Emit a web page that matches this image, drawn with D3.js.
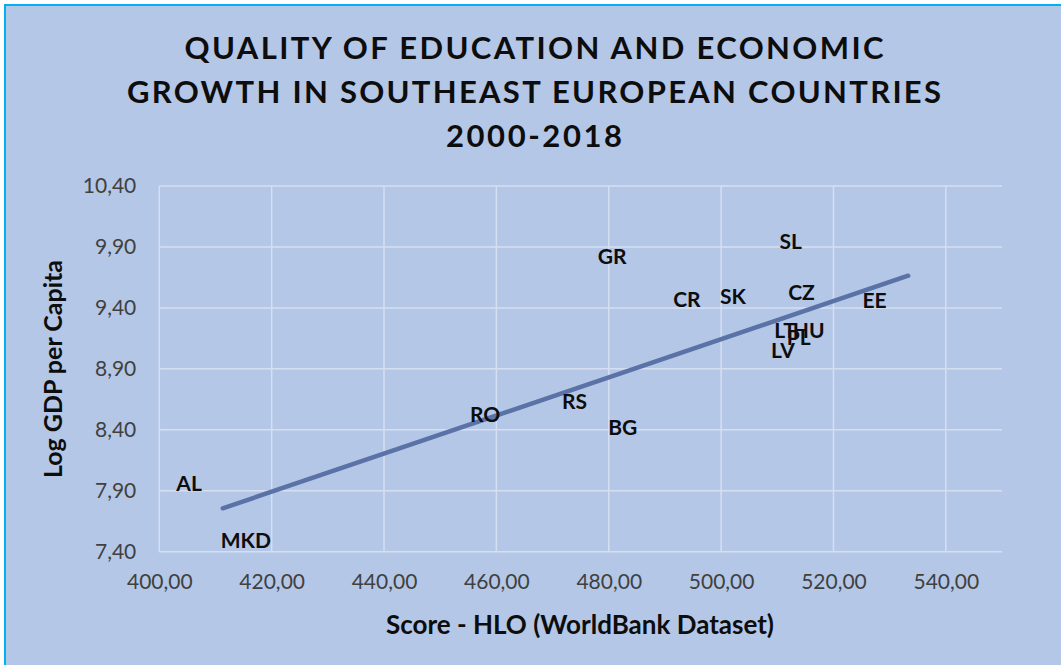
<!DOCTYPE html>
<html>
<head>
<meta charset="utf-8">
<script src="https://cdn.jsdelivr.net/npm/d3@7"></script>
<style>
  html, body { margin: 0; padding: 0; background: #ffffff; }
  svg { display: block; }
  text { font-family: Lato, "Open Sans", sans-serif; }
</style>
</head>
<body>
<div id="chart"></div>
<script>
// data
const countries = ["AL", "MKD", "RO", "RS", "BG", "GR", "CR", "SK", "SL", "CZ", "EE", "LT", "HU", "PL", "LV"];
const hloScore = [405.3, 415.4, 458.0, 473.9, 482.5, 480.6, 493.9, 502.1, 512.4, 514.3, 527.3, 511.4, 515.6, 513.8, 511.0];
const logGdp = [7.97, 7.50, 8.536, 8.637, 8.426, 9.828, 9.48, 9.499, 9.953, 9.535, 9.467, 9.22, 9.226, 9.165, 9.056];

// linear trend, ends
const trendX = [411.3, 533.3];
const trendY = [7.756, 9.664];

const xTicks = [400, 420, 440, 460, 480, 500, 520, 540];
const yTicks = [7.4, 7.9, 8.4, 8.9, 9.4, 9.9, 10.4];

const titleLines = ["QUALITY OF EDUCATION AND ECONOMIC", "GROWTH IN SOUTHEAST EUROPEAN COUNTRIES", "2000-2018"];
const titleWidths = [699, 814, 176];

const W = 1061, H = 665;
const plotL = 159.3, plotR = 1002, plotT = 186, plotB = 551.7;

const svg = d3.select("#chart").append("svg")
    .attr("width", W)
    .attr("height", H);

// chart area with blue frame (runs past the right/bottom edge)
svg.append("rect")
    .attr("x", 5).attr("y", 5)
    .attr("width", W + 20).attr("height", H + 20)
    .attr("fill", "#b4c7e7")
    .attr("stroke", "#00b0f0")
    .attr("stroke-width", 2);

const x = d3.scaleLinear().domain([400, 550]).range([plotL, plotR]);
const y = d3.scaleLinear().domain([7.4, 10.4]).range([plotB, plotT]);

const fmt = d => d3.format(".2f")(d).replace(".", ",");

// gridlines
const grid = svg.append("g");
grid.selectAll(".hg").data(yTicks).enter().append("line")
    .attr("x1", plotL).attr("x2", plotR)
    .attr("y1", d => y(d)).attr("y2", d => y(d))
    .attr("stroke", "#d5dff1").attr("stroke-width", 1.5);
grid.selectAll(".vg").data(xTicks).enter().append("line")
    .attr("x1", d => x(d)).attr("x2", d => x(d))
    .attr("y1", plotT).attr("y2", plotB)
    .attr("stroke", "#d5dff1").attr("stroke-width", 1.5);

// axes (labels only)
const xAxis = svg.append("g")
    .attr("transform", "translate(0," + plotB + ")")
    .call(d3.axisBottom(x).tickValues(xTicks).tickFormat(fmt).tickSize(0).tickPadding(22));
const yAxis = svg.append("g")
    .attr("transform", "translate(" + plotL + ",0)")
    .call(d3.axisLeft(y).tickValues(yTicks).tickFormat(fmt).tickSize(0).tickPadding(23));
[xAxis, yAxis].forEach(a => {
    a.select(".domain").remove();
    a.selectAll("text")
        .attr("font-family", "Lato, 'Open Sans', sans-serif")
        .attr("font-size", 21)
        .attr("fill", "#404040");
});

// trend line
svg.append("path")
    .datum(d3.zip(trendX, trendY))
    .attr("fill", "none")
    .attr("stroke", "#5a72a6")
    .attr("stroke-width", 4.5)
    .attr("stroke-linecap", "round")
    .attr("d", d3.line().x(d => x(d[0])).y(d => y(d[1])));

// data labels (no markers)
svg.append("g").selectAll("text")
    .data(countries).enter().append("text")
    .attr("x", (d, i) => x(hloScore[i]))
    .attr("y", (d, i) => y(logGdp[i]))
    .attr("text-anchor", "middle")
    .attr("dominant-baseline", "central")
    .attr("font-size", 21)
    .attr("font-weight", "bold")
    .attr("fill", "#0d0d0d")
    .text(d => d);

// title
svg.append("g").selectAll("text")
    .data(titleLines).enter().append("text")
    .attr("x", 534)
    .attr("y", (d, i) => 59 + i * 44)
    .attr("text-anchor", "middle")
    .attr("font-size", 31)
    .attr("font-weight", "bold")
    .attr("fill", "#0d0d0d")
    .attr("textLength", (d, i) => titleWidths[i])
    .attr("lengthAdjust", "spacing")
    .text(d => d);

// axis titles
svg.append("text")
    .attr("x", 580).attr("y", 634)
    .attr("text-anchor", "middle")
    .attr("font-size", 26)
    .attr("font-weight", "bold")
    .attr("fill", "#0d0d0d")
    .text("Score - HLO (WorldBank Dataset)");

svg.append("text")
    .attr("transform", "translate(62,369) rotate(-90)")
    .attr("text-anchor", "middle")
    .attr("font-size", 25)
    .attr("font-weight", "bold")
    .attr("fill", "#0d0d0d")
    .text("Log GDP per Capita");
</script>
</body>
</html>
